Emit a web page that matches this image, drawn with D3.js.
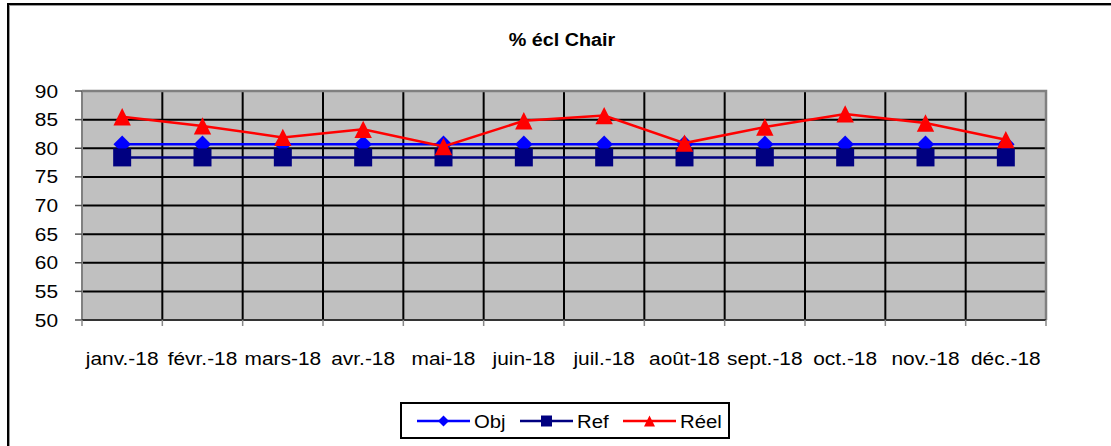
<!DOCTYPE html>
<html><head><meta charset="utf-8">
<script src="https://cdn.jsdelivr.net/npm/d3@7"></script>
<style>html,body{margin:0;padding:0;background:#fff;overflow:hidden}</style>
</head><body>
<script>
const months = ["janv.-18","févr.-18","mars-18","avr.-18","mai-18","juin-18","juil.-18","août-18","sept.-18","oct.-18","nov.-18","déc.-18"];
const obj  = [80.7,80.7,80.7,80.7,80.7,80.7,80.7,80.7,80.7,80.7,80.7,80.7];
const ref  = [78.4,78.4,78.4,78.4,78.4,78.4,78.4,78.4,78.4,78.4,78.4,78.4];
const reel = [85.5,83.9,81.9,83.3,80.3,84.8,85.7,80.9,83.7,86.0,84.4,81.5];
const yTicks = [50,55,60,65,70,75,80,85,90];
const seriesNames = ["Obj","Ref","Réel"];

const W = 1111, H = 446;
const FONT = "'Liberation Sans', Arial, sans-serif";
const SX = 1.13;
const svg = d3.select("body").append("svg").attr("width", W).attr("height", H);

// outer frame
svg.append("rect").attr("x", 9).attr("y", 5).attr("width", 1200).attr("height", 600)
  .attr("fill", "none").attr("stroke", "#999").attr("stroke-width", 2);
svg.append("rect").attr("x", 8).attr("y", 4).attr("width", 1200).attr("height", 600)
  .attr("fill", "none").attr("stroke", "#000").attr("stroke-width", 2);

function txt(g, x, y, s, size, anchor, weight) {
  return g.append("text").attr("transform", `translate(${x},${y}) scale(${SX},1)`)
    .attr("font-family", FONT).attr("font-size", size).attr("text-anchor", anchor)
    .attr("font-weight", weight || "normal").attr("fill", "#000").text(s);
}

// title
txt(svg, 562, 46, "% écl Chair", 17.5, "middle", "bold");

const x = d3.scaleBand().domain(months).range([82, 1046]).padding(0);
const y = d3.scaleLinear().domain([50, 90]).range([320, 91]);
const cx = m => x(m) + x.bandwidth() / 2;

// plot background
svg.append("rect").attr("x", 82).attr("y", y(90)).attr("width", 1046 - 82).attr("height", y(50) - y(90))
  .attr("fill", "#C0C0C0");

// horizontal gridlines
svg.append("g").selectAll("line").data(yTicks.filter(v => v > 50 && v < 90)).join("line")
  .attr("x1", 82).attr("x2", 1046).attr("y1", d => y(d)).attr("y2", d => y(d))
  .attr("stroke", "#000").attr("stroke-width", 2);
// vertical gridlines at category boundaries
svg.append("g").selectAll("line").data(months.slice(1)).join("line")
  .attr("x1", d => x(d)).attr("x2", d => x(d)).attr("y1", y(90)).attr("y2", y(50))
  .attr("stroke", "#000").attr("stroke-width", 2);

// plot border top/right (gray)
svg.append("path").attr("d", `M82,${y(90)}H1046V${y(50)}`).attr("fill", "none")
  .attr("stroke", "#808080").attr("stroke-width", 2.5);

// y axis
const yAxis = svg.append("g");
yAxis.append("line").attr("x1", 82).attr("x2", 82).attr("y1", y(90)).attr("y2", y(50))
  .attr("stroke", "#808080").attr("stroke-width", 2);
yAxis.selectAll("line.t").data(yTicks).join("line").attr("class", "t")
  .attr("x1", 75).attr("x2", 82).attr("y1", d => y(d)).attr("y2", d => y(d))
  .attr("stroke", "#555").attr("stroke-width", 1.5);
yTicks.forEach(v => txt(yAxis, 58, y(v) + 6.5, String(v), 18.5, "end"));

// x axis
const xAxis = svg.append("g");
xAxis.append("line").attr("x1", 82).attr("x2", 1046).attr("y1", y(50)).attr("y2", y(50))
  .attr("stroke", "#333").attr("stroke-width", 2);
const bounds = months.map(m => x(m)).concat([x(months[months.length - 1]) + x.bandwidth()]);
xAxis.selectAll("line.t").data(bounds).join("line").attr("class", "t")
  .attr("x1", d => d).attr("x2", d => d).attr("y1", y(50)).attr("y2", y(50) + 6)
  .attr("stroke", "#888").attr("stroke-width", 1.5);
months.forEach(m => txt(xAxis, cx(m), 365, m, 18.5, "middle"));

// series
const line = d3.line().x(d => cx(d.m)).y(d => y(d.v));
const toPts = arr => arr.map((v, i) => ({m: months[i], v}));

const diamond = s => `M0,${-s}L${s},0L0,${s}L${-s},0Z`;
const square = s => `M${-s},${-s}H${s}V${s}H${-s}Z`;
const triangle = s => `M0,${-s}L${s},${s}L${-s},${s}Z`;

const series = [
  {name: seriesNames[0], data: obj, color: "#0000FF", shape: diamond, size: 8.7},
  {name: seriesNames[1], data: ref, color: "#000080", shape: square, size: 9},
  {name: seriesNames[2], data: reel, color: "#FF0000", shape: triangle, size: 8.7}
];
series.forEach(s => {
  const g = svg.append("g");
  g.append("path").attr("d", line(toPts(s.data))).attr("fill", "none")
    .attr("stroke", s.color).attr("stroke-width", 2.5);
  g.selectAll("path.m").data(toPts(s.data)).join("path").attr("class", "m")
    .attr("transform", d => `translate(${cx(d.m)},${y(d.v)})`)
    .attr("d", s.shape(s.size)).attr("fill", s.color);
});

// legend
const lg = svg.append("g");
lg.append("rect").attr("x", 401).attr("y", 403).attr("width", 328).attr("height", 35)
  .attr("fill", "#fff").attr("stroke", "#000").attr("stroke-width", 2);
const legX = [417, 520, 623];
series.forEach((s, i) => {
  const x0 = legX[i], ly = 421;
  lg.append("line").attr("x1", x0).attr("x2", x0 + 53).attr("y1", ly).attr("y2", ly)
    .attr("stroke", s.color).attr("stroke-width", 2.5);
  lg.append("path").attr("transform", `translate(${x0 + 26.5},${ly})`)
    .attr("d", s.shape(5.5)).attr("fill", s.color);
  txt(lg, x0 + 57, ly + 6.5, s.name, 18, "start");
});
</script>
</body></html>
